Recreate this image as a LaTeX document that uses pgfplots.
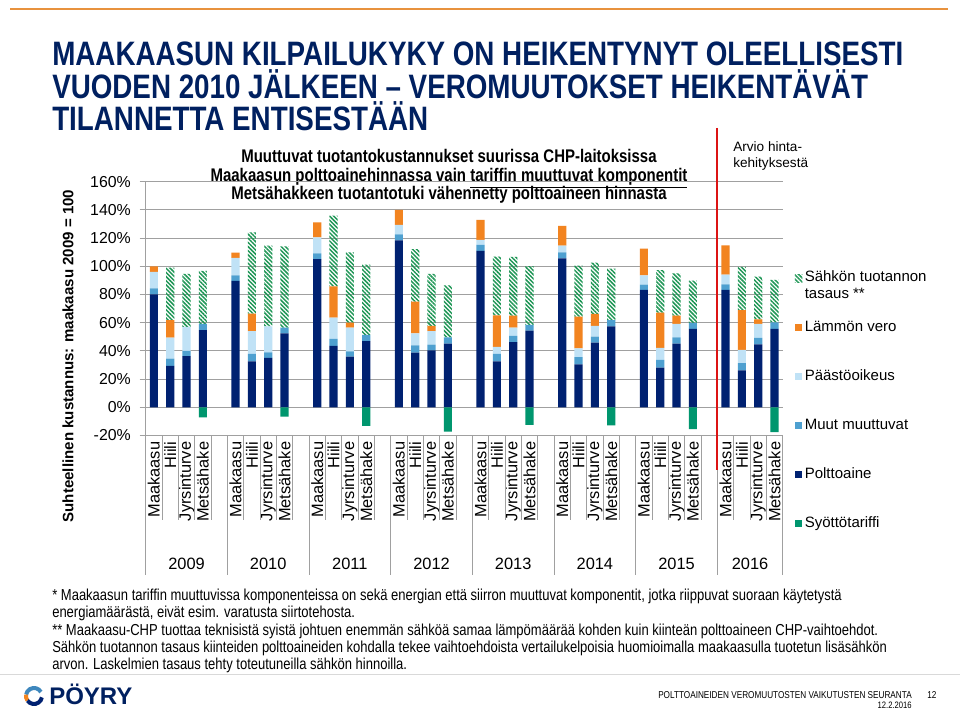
\documentclass[border=0pt]{standalone}
\usepackage{fontspec}
\setmainfont{Liberation Sans}
\newfontfamily\narrow[FakeStretch=0.82]{Liberation Sans}
\usepackage{pgfplots}
\pgfplotsset{compat=1.18}
\usepackage{pgfplotstable}
\usetikzlibrary{patterns.meta}

\definecolor{polttoaine}{RGB}{0,33,113}
\definecolor{muut}{RGB}{78,160,208}
\definecolor{paasto}{RGB}{192,226,246}
\definecolor{vero}{RGB}{242,132,32}
\definecolor{hatchgreen}{RGB}{30,150,85}
\definecolor{syotto}{RGB}{0,150,110}
\definecolor{titlenavy}{RGB}{0,32,96}
\definecolor{rule}{RGB}{232,146,62}
\definecolor{gridgray}{RGB}{160,160,160}

\pgfplotsset{sq legend/.style={legend image code/.code={\path[##1] (0pt,-2.8pt) rectangle (5.6pt,2.8pt);}}}

% x: slot position (5 per year, 4 fuels + gap)
% P polttoaine, M muut muuttuvat, Pa paastooikeus, V lammon vero, T sahkon tuotannon tasaus
\pgfplotstableread{
x  P     M    Pa    V     T
0  80.0  4.3  11.7  4.0   0
1  29.3  5.2  14.9  12.5  37.2
2  36.2  3.8  17.0  0     37.6
3  54.8  4.3  0     0     37.6
5  89.6  4.0  12.3  3.8   0
6  32.6  5.2  16.3  12.3  57.7
7  35.0  4.0  18.4  0     57.3
8  52.5  4.0  0     0     57.7
10 105.0 4.2  11.3  10.6  0
11 43.5  5.0  15.1  22.2  50.1
12 35.9  3.8  16.8  3.5   49.9
13 47.0  4.3  0     0     49.9
15 118.4 4.3  6.6   10.7  0
16 38.8  5.2  8.5   22.4  37.2
17 40.4  4.0  9.7   3.6   36.9
18 45.2  4.4  0     0     36.9
20 110.9 4.2  3.6   14.2  0
21 32.6  5.2  5.0   22.4  41.7
22 46.3  4.3  5.9   8.5   41.6
23 54.4  4.0  0     0     41.8
25 105.7 4.2  4.8   13.9  0
26 30.5  5.0  6.3   22.5  36.2
27 45.9  4.2  7.6   8.5   36.4
28 57.4  4.5  0     0     36.4
30 83.2  3.8  6.6   18.9  0
31 28.1  5.5  8.5   25.0  30.1
32 45.2  4.4  9.5   5.9   30.0
33 55.6  4.2  0     0     30.0
35 83.2  4.0  6.9   20.8  0
36 26.2  5.2  9.3   28.3  30.5
37 44.7  4.5  9.9   3.3   30.3
38 55.6  4.7  0     0     30.0
}\bars

\pgfplotstableread{
x  S
3  -7.1
8  -6.6
13 -13.2
18 -17.3
23 -12.5
28 -12.8
33 -15.4
38 -17.7
}\syottotable

\begin{document}
\begin{tikzpicture}[x=0.75pt,y=0.75pt]
\useasboundingbox (0,0) rectangle (960,712);
\fill[white] (0,0) rectangle (960,712);

% top rule
\draw[rule, line width=2.2pt] (10,712-9) -- (948,712-9);

% title
\begin{scope}[every node/.style={anchor=base west, inner sep=0pt, text=titlenavy,
    font=\narrow\bfseries\fontsize{25.4}{30}\selectfont}]
\node at (52,712-66) {MAAKAASUN KILPAILUKYKY ON HEIKENTYNYT OLEELLISESTI};
\node at (52,712-99) {VUODEN 2010 JÄLKEEN – VEROMUUTOKSET HEIKENTÄVÄT};
\node at (52,712-131) {TILANNETTA ENTISESTÄÄN};
\end{scope}

% subtitle
\begin{scope}[every node/.style={anchor=base, inner sep=0pt,
    font=\narrow\bfseries\fontsize{13.7}{16}\selectfont}]
\node at (449,712-163) {Muuttuvat tuotantokustannukset suurissa CHP-laitoksissa};
\node at (449,712-182) {Maakaasun polttoainehinnassa vain \underline{tariffin muuttuvat komponentit}};
\node at (449,712-200) {Metsähakkeen tuotantotuki vähennetty polttoaineen hinnasta};
\end{scope}

\node[anchor=base west, inner sep=0pt, font=\fontsize{10.2}{12}\selectfont] at (733,712-152) {Arvio hinta-};
\node[anchor=base west, inner sep=0pt, font=\fontsize{10.2}{12}\selectfont] at (733,712-168) {kehityksestä};

\begin{axis}[
    at={(109.275pt,207.375pt)}, anchor=south west,
    scale only axis, width=477.75pt, height=190.35pt,
    xmin=-0.5, xmax=38.5, ymin=-20, ymax=160,
    ybar stacked, bar width=0.5,
    axis line style={draw=none},
    ymajorgrids, grid style={gridgray, line width=0.6pt},
    ytick={-20,0,20,40,60,80,100,120,140,160},
    yticklabels={-20\%,0\%,20\%,40\%,60\%,80\%,100\%,120\%,140\%,160\%},
    ytick pos=left, tick align=outside, major tick length=4.5pt,
    ytick style={gridgray, line width=0.6pt},
    yticklabel style={font=\fontsize{11.9}{14}\selectfont, inner sep=0pt, xshift=-6.5pt},
    xtick={0,1,2,3,5,6,7,8,10,11,12,13,15,16,17,18,20,21,22,23,25,26,27,28,30,31,32,33,35,36,37,38},
    xticklabels={Maakaasu,Hiili,Jyrsinturve,Metsähake,Maakaasu,Hiili,Jyrsinturve,Metsähake,
      Maakaasu,Hiili,Jyrsinturve,Metsähake,Maakaasu,Hiili,Jyrsinturve,Metsähake,
      Maakaasu,Hiili,Jyrsinturve,Metsähake,Maakaasu,Hiili,Jyrsinturve,Metsähake,
      Maakaasu,Hiili,Jyrsinturve,Metsähake,Maakaasu,Hiili,Jyrsinturve,Metsähake},
    xtick style={draw=none}, xtick pos=bottom,
    xticklabel style={rotate=90, anchor=east, inner sep=0pt, font=\fontsize{12.3}{14}\selectfont},
    every axis plot post/.append style={sq legend},
    reverse legend,
    legend cell align=left,
    legend style={at={(axis description cs:1.0188,0.716)}, anchor=north west,
      draw=none, fill=none, inner sep=0pt, row sep=0pt,
      font=\fontsize{11.25}{13.5}\selectfont,
      nodes={minimum height=36.75pt, inner sep=1.8pt}},
  ]
  \addlegendimage{fill=syotto, draw=none, sq legend}
  \addlegendentry{Syöttötariffi}
  \addplot[fill=polttoaine, draw=none] table[x=x, y=P]{\bars};
  \addlegendentry{Polttoaine}
  \addplot[fill=muut, draw=none] table[x=x, y=M]{\bars};
  \addlegendentry{Muut muuttuvat}
  \addplot[fill=paasto, draw=none] table[x=x, y=Pa]{\bars};
  \addlegendentry{Päästöoikeus}
  \addplot[fill=vero, draw=none] table[x=x, y=V]{\bars};
  \addlegendentry{Lämmön vero}
  \addplot[draw=none, pattern={Lines[angle=-45, distance=2.2pt, line width=1.1pt]}, pattern color=hatchgreen] table[x=x, y=T]{\bars};
  \addlegendentry{\smash{\raisebox{-3.1pt}{\parbox[t]{5cm}{\raggedright\baselineskip=12.3pt Sähkön tuotannon\\tasaus **}}}}
\end{axis}

\begin{axis}[
    at={(109.275pt,207.375pt)}, anchor=south west,
    scale only axis, width=477.75pt, height=190.35pt,
    xmin=-0.5, xmax=38.5, ymin=-20, ymax=160,
    hide axis, ybar, bar width=0.5,
  ]
  \addplot[fill=syotto, draw=none] table[x=x, y=S]{\syottotable};
\end{axis}

% category table lines
\foreach \k in {0,...,39} {
  \draw[gridgray, line width=0.6pt] ({145.7+16.3333*\k},712-435.5) -- ({145.7+16.3333*\k},712-520);
}
\foreach \k in {0,5,10,15,20,25,30,39} {
  \draw[gridgray, line width=0.6pt] ({145.7+16.3333*\k},712-435.5) -- ({145.7+16.3333*\k},712-575);
}
\draw[gridgray, line width=0.6pt] ({145.7+16.3333*35},712-470) -- ({145.7+16.3333*35},712-575);
\draw[gridgray, line width=0.6pt] (145.7,712-181.7) -- (145.7,712-435.5);
\draw[draw={rgb,255:red,220;green,20;blue,20}, line width=1.4pt] ({145.7+16.3333*35},712-128) -- ({145.7+16.3333*35},712-470);

% year labels
\foreach \g/\yr in {0/2009,1/2010,2/2011,3/2012,4/2013,5/2014,6/2015} {
  \node[anchor=base, inner sep=0pt, font=\fontsize{12.3}{14}\selectfont] at ({145.7+16.3333*(5*\g+2.5)},712-570) {\yr};
}
\node[anchor=base, inner sep=0pt, font=\fontsize{12.3}{14}\selectfont] at ({145.7+16.3333*37},712-570) {2016};

% y label
\node[rotate=90, inner sep=0pt, font=\bfseries\fontsize{11.3}{13}\selectfont] at (68,712-356) {Suhteellinen kustannus: maakaasu 2009 = 100};

% footnotes
\begin{scope}[every node/.style={anchor=base west, inner sep=0pt,
    font=\narrow\fontsize{11.9}{13}\selectfont}]
\node at (52,712-601) {* Maakaasun tariffin muuttuvissa komponenteissa on sekä energian että siirron muuttuvat komponentit, jotka riippuvat suoraan käytetystä};
\node at (52,712-618) {energiamäärästä, eivät esim. varatusta siirtotehosta.};
\node at (52,712-635.5) {** Maakaasu-CHP tuottaa teknisistä syistä johtuen enemmän sähköä samaa lämpömäärää kohden kuin kiinteän polttoaineen CHP-vaihtoehdot.};
\node at (52,712-653) {Sähkön tuotannon tasaus kiinteiden polttoaineiden kohdalla tekee vaihtoehdoista vertailukelpoisia huomioimalla maakaasulla tuotetun lisäsähkön};
\node at (52,712-670) {arvon. Laskelmien tasaus tehty toteutuneilla sähkön hinnoilla.};
\end{scope}

\draw[black!15, line width=0.6pt] (0,712-674) -- (960,712-674);

% logo
\draw[muut!80!polttoaine, line width=3pt] (34,712-696) ++(30:8) arc (30:170:8);
\draw[vero, line width=3pt] (34,712-696) ++(170:8) arc (170:215:8);
\draw[polttoaine, line width=3pt] (34,712-696) ++(215:8) arc (215:350:8);
\node[anchor=base west, inner sep=0pt, text=titlenavy, font=\bfseries\fontsize{18}{20}\selectfont] at (49,712-705) {PÖYRY};

% footer
\node[anchor=base east, inner sep=0pt, font=\narrow\fontsize{7.5}{9}\selectfont] at (912,712-699) {POLTTOAINEIDEN VEROMUUTOSTEN VAIKUTUSTEN SEURANTA};
\node[anchor=base west, inner sep=0pt, font=\narrow\fontsize{7.5}{9}\selectfont] at (927,712-699) {12};
\node[anchor=base east, inner sep=0pt, font=\narrow\fontsize{7}{9}\selectfont] at (912,712-709) {12.2.2016};
\end{tikzpicture}
\end{document}
